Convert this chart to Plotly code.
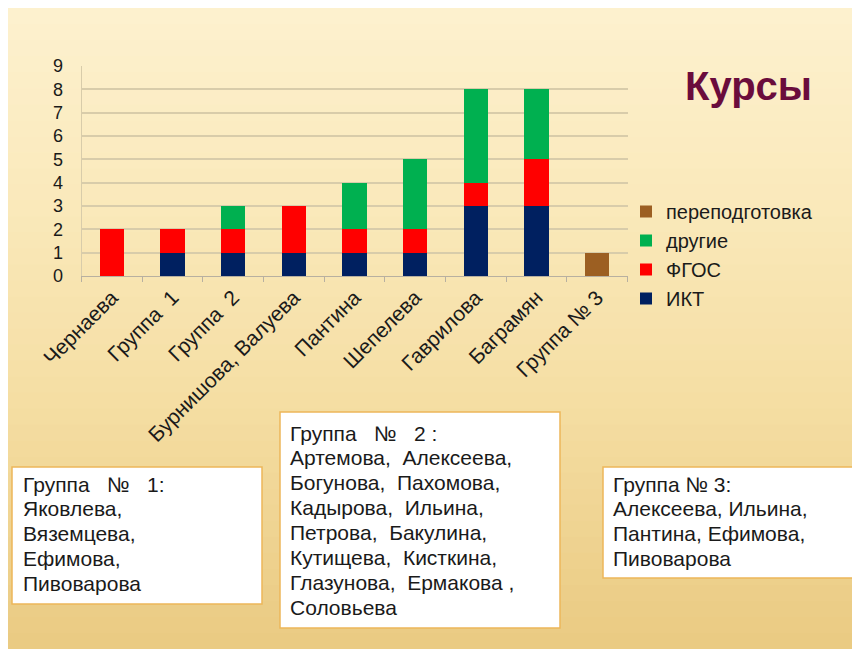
import plotly.graph_objects as go

categories = ["Чернаева", "Группа  1", "Группа  2", "Бурнишова, Валуева", "Пантина",
              "Шепелева", "Гаврилова", "Баграмян", "Группа № 3"]
ikt = [0, 1, 1, 1, 1, 1, 3, 3, 0]
fgos = [2, 1, 1, 2, 1, 1, 1, 2, 0]
drugie = [0, 0, 1, 0, 2, 3, 4, 3, 0]
perepodg = [0, 0, 0, 0, 0, 0, 0, 0, 1]
series_names = ["ИКТ", "ФГОС", "другие", "переподготовка"]
series_colors = ["#002060", "#FF0000", "#00B050", "#9C5F22"]
y_ticks = list(range(0, 10))
title_text = "Курсы"

NB = "\u00a0"
group1_lines = [f"Группа{NB}{NB}{NB}№{NB}{NB}{NB}1:", "Яковлева,", "Вяземцева,", "Ефимова,", "Пивоварова"]
group2_lines = [f"Группа{NB}{NB}{NB}№{NB}{NB}{NB}2{NB}:", "Артемова,  Алексеева,", "Богунова,  Пахомова,",
                "Кадырова,  Ильина,", "Петрова,  Бакулина,", "Кутищева,  Кисткина,",
                "Глазунова,  Ермакова ,", "Соловьева"]
group3_lines = ["Группа № 3:", "Алексеева, Ильина,", "Пантина, Ефимова,", "Пивоварова"]

W, H = 860, 649
OFF = 8  # page body margin


def px(x):
    return (x - OFF) / W


def py(y):
    return 1 - (y - OFF) / H


fig = go.Figure()
for name, vals, col in zip(series_names, [ikt, fgos, drugie, perepodg], series_colors):
    fig.add_trace(go.Bar(x=categories, y=vals, name=name,
                         marker=dict(color=col, line=dict(width=0))))

shapes = []
# background gradient bands
stops = [(8, (253, 241, 207)), (200, (250, 233, 187)), (400, (245, 222, 163)), (660, (233, 201, 128))]
nb = 40
for i in range(nb):
    y0 = 8 + (H - 8) * i / nb
    y1 = 8 + (H - 8) * (i + 1) / nb
    ym = (y0 + y1) / 2
    c = stops[-1][1]
    for j in range(len(stops) - 1):
        if stops[j][0] <= ym <= stops[j + 1][0]:
            t = (ym - stops[j][0]) / (stops[j + 1][0] - stops[j][0])
            c = [round(stops[j][1][k] + t * (stops[j + 1][1][k] - stops[j][1][k])) for k in range(3)]
    shapes.append(dict(type="rect", xref="paper", yref="paper", x0=0, x1=1,
                       y0=max(0, py(y1 + 0.6)), y1=min(1, py(y0)),
                       fillcolor=f"rgb({c[0]},{c[1]},{c[2]})",
                       line=dict(width=0), layer="below"))

annotations = []
annotations.append(dict(text=f"<b>{title_text}</b>", xref="paper", yref="paper",
                        x=px(748), y=py(86), showarrow=False, xanchor="center", yanchor="middle",
                        font=dict(size=40, color="#6A0C3C", family="Liberation Sans, Arial")))

boxes = [
    (12, 467, 262, 604, group1_lines, 21, 484),
    (280, 412, 560, 628, group2_lines, 288, 433),
    (603, 467, 859, 578, group3_lines, 611, 484),
]
for (x0, y0, x1, y1, lines, tx, ty) in boxes:
    shapes.append(dict(type="rect", xref="paper", yref="paper", x0=px(x0), x1=px(x1),
                       y0=py(y1), y1=py(y0), fillcolor="white",
                       line=dict(color="#EDB65A", width=1.5)))
    for i, ln in enumerate(lines):
        annotations.append(dict(text=ln, xref="paper", yref="paper", x=px(tx), y=py(ty + 24.9 * i),
                                showarrow=False, xanchor="left", yanchor="middle",
                                font=dict(size=21, color="#1a1a1a",
                                          family="Liberation Sans, Arial")))

fig.update_layout(
    width=W, height=H, autosize=False,
    margin=dict(l=0, r=0, t=0, b=0, autoexpand=False),
    paper_bgcolor="#FDF1CF", plot_bgcolor="rgba(0,0,0,0)",
    barmode="stack", bargap=0.6,
    showlegend=True,
    legend=dict(x=px(626), y=py(192), xanchor="left", yanchor="top", traceorder="reversed",
                bgcolor="rgba(0,0,0,0)", font=dict(size=20, color="#1a1a1a", family="Liberation Sans, Arial"),
                itemwidth=30),
    font=dict(family="Liberation Sans, Arial", color="#1a1a1a"),
    shapes=shapes, annotations=annotations,
    xaxis=dict(domain=[px(81.5), px(627.5)], tickangle=-45, tickfont=dict(size=21),
               showline=True, linecolor="#B8B0A0", linewidth=1, automargin=False,
               ticks="outside", tickson="boundaries", ticklen=5, tickcolor="#B8B0A0",
               showgrid=False, anchor="y"),
    yaxis=dict(domain=[py(276), py(66)], range=[0, 9], tickvals=y_ticks, automargin=False,
               tickfont=dict(size=18), showgrid=True, gridcolor="#D8CCAA", gridwidth=2,
               showline=True, linecolor="#D8CCAA", linewidth=1, zeroline=False,
               ticks="", ticklabelstandoff=14),
)

fig.write_html("out.html")
